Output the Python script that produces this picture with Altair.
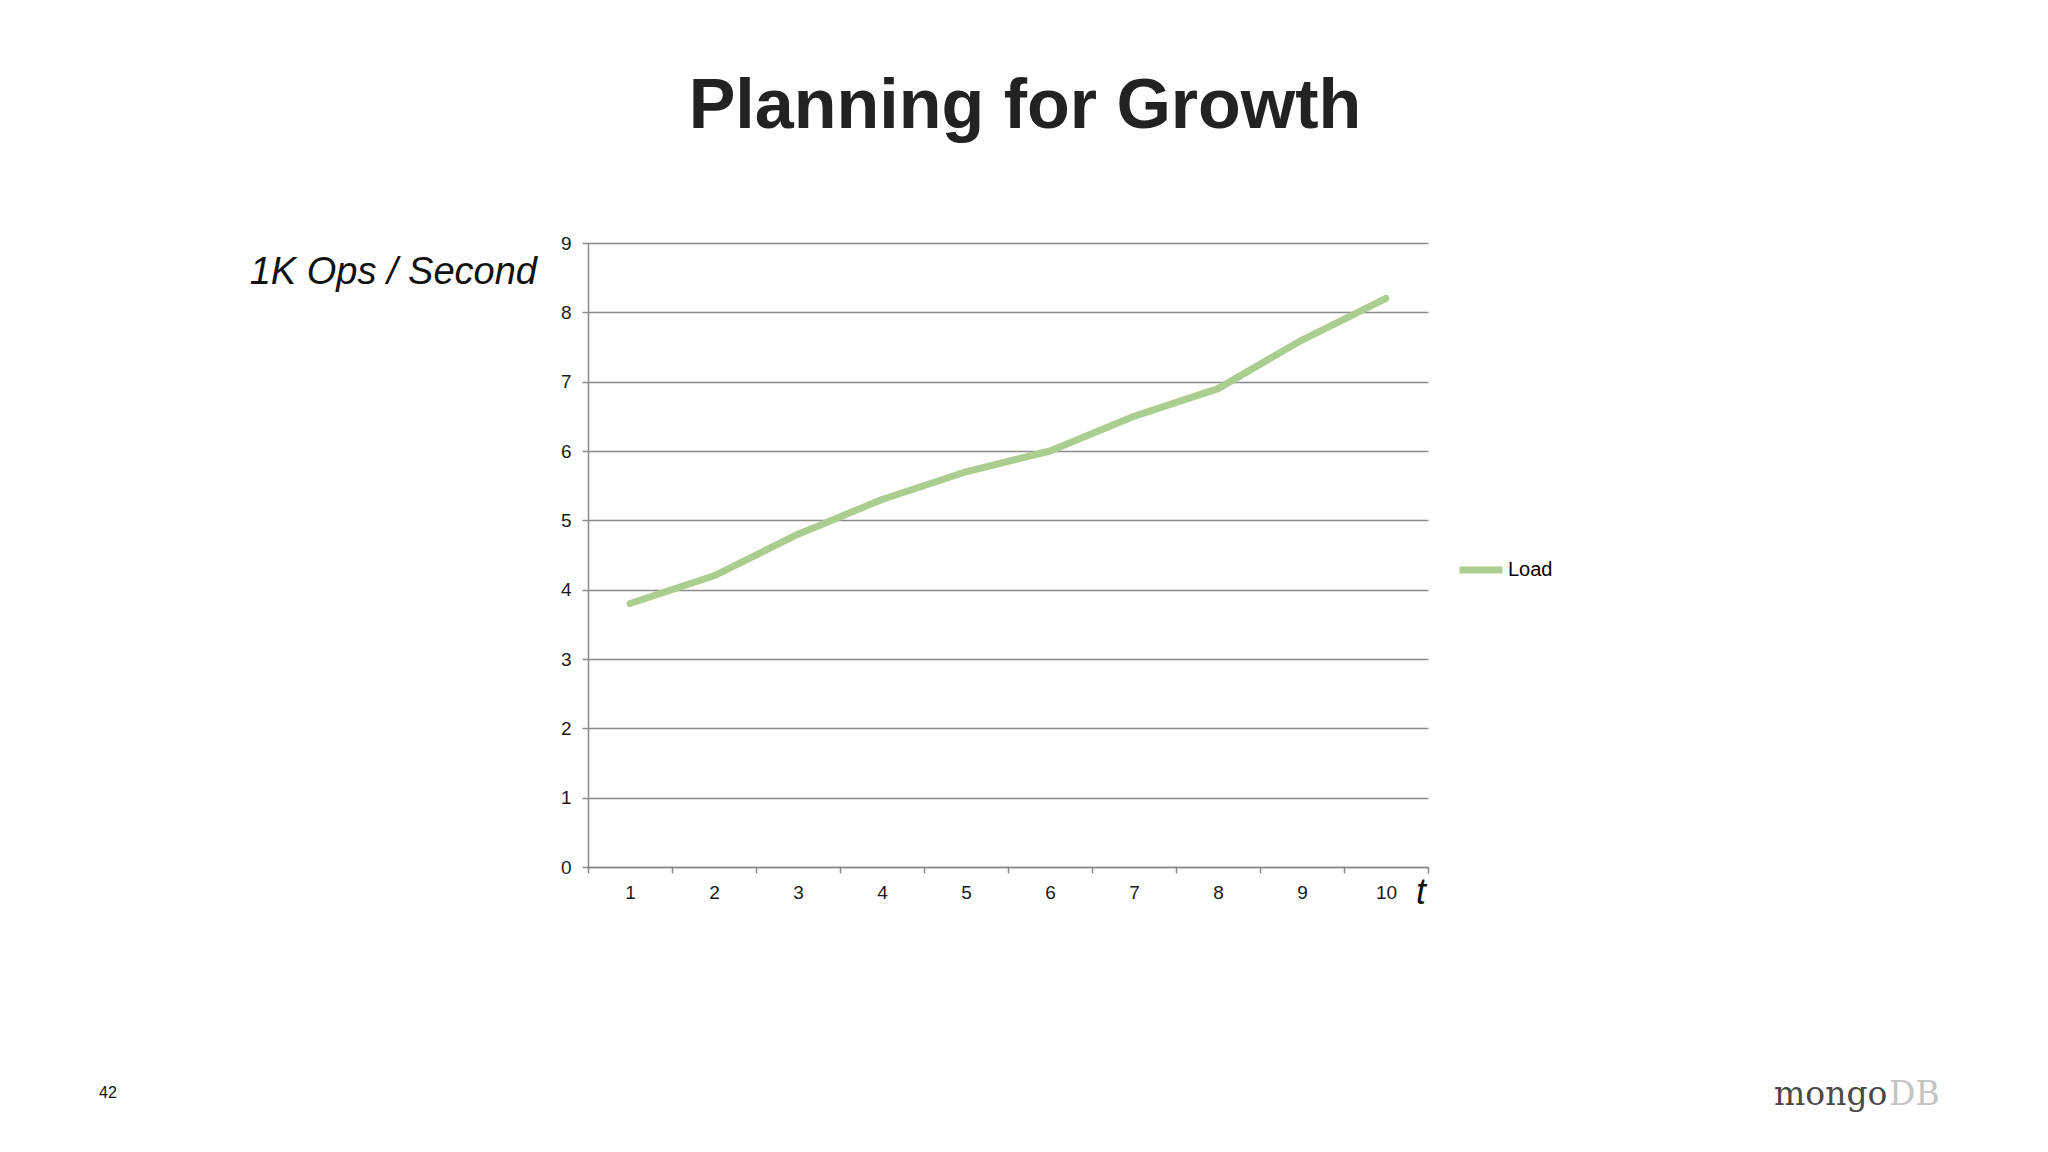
import altair as alt
import pandas as pd

t_values = [1, 2, 3, 4, 5, 6, 7, 8, 9, 10]
load_values = [3.8, 4.2, 4.8, 5.3, 5.7, 6.0, 6.5, 6.9, 7.6, 8.2]
series_name = ["Load"] * 10
y_ticks = [0, 1, 2, 3, 4, 5, 6, 7, 8, 9]

df = pd.DataFrame({"t": t_values, "load": load_values, "series": series_name})

FONT = "Liberation Sans"
W, H = 840, 624

line = alt.Chart(df).mark_line(strokeWidth=7, strokeCap="round", strokeJoin="round").encode(
    x=alt.X("t:O", bandPosition=0.5,
            scale=alt.Scale(type="band", paddingInner=0, paddingOuter=0),
            axis=alt.Axis(title=None, labelAngle=0, tickBand="extent", tickSize=6,
                          labelPadding=10, labelFontSize=19, labelFont=FONT, labelColor="#1a1a1a",
                          domainColor="#8a8a8a", tickColor="#8a8a8a", domainWidth=1.5, tickWidth=1.5,
                          grid=False)),
    y=alt.Y("load:Q", scale=alt.Scale(domain=[0, 9], nice=False),
            axis=alt.Axis(title=None, values=y_ticks, tickSize=6, labelPadding=11,
                          labelFontSize=19, labelFont=FONT, labelColor="#1a1a1a",
                          domainColor="#8a8a8a", tickColor="#8a8a8a", domainWidth=1.5, tickWidth=1.5,
                          grid=True, gridColor="#8a8a8a", gridWidth=1.5)),
    color=alt.Color("series:N", scale=alt.Scale(range=["#abce90"]),
                    legend=alt.Legend(orient="none", legendX=868, legendY=302, title=None,
                                      symbolType="stroke", symbolSize=1849, symbolStrokeWidth=7,
                                      labelFontSize=20, labelFont=FONT, labelColor="#000000",
                                      labelOffset=2, padding=0)),
)

def txt(s, x, y, size, **kw):
    return alt.Chart(pd.DataFrame({"s": [s]})).mark_text(fontSize=size, **kw).encode(
        text="s:N", x=alt.value(x), y=alt.value(y))

title = txt("Planning for Growth", 437, -115, 70, font=FONT, fontWeight="bold",
            color="#222222", align="center", baseline="alphabetic")
ylab = txt("1K Ops / Second", -51, 30, 38, font=FONT, fontStyle="italic",
           color="#111111", align="right", baseline="middle")
xlab = txt("t", 833, 650, 36, font=FONT, fontStyle="italic",
           color="#111111", align="center", baseline="middle")
page = txt("42", -480, 850, 16, font=FONT, color="#111111", align="center", baseline="middle")
logo1 = txt("mongo", 1186, 862, 33, font="DejaVu Serif", color="#4a4a4a",
            align="left", baseline="alphabetic")
logo2 = txt("DB", 1301, 862, 33, font="DejaVu Serif", color="#c4c4c4",
            align="left", baseline="alphabetic")

chart = alt.layer(line, title, ylab, xlab, page, logo1, logo2).properties(
    width=W, height=H,
    autosize=alt.AutoSizeParams(type="none"),
    padding={"left": 580, "top": 235, "right": 612, "bottom": 277},
    background="#ffffff",
).configure_view(stroke=None)

chart.save("out.html", embed_options={"renderer": "svg", "actions": False})
